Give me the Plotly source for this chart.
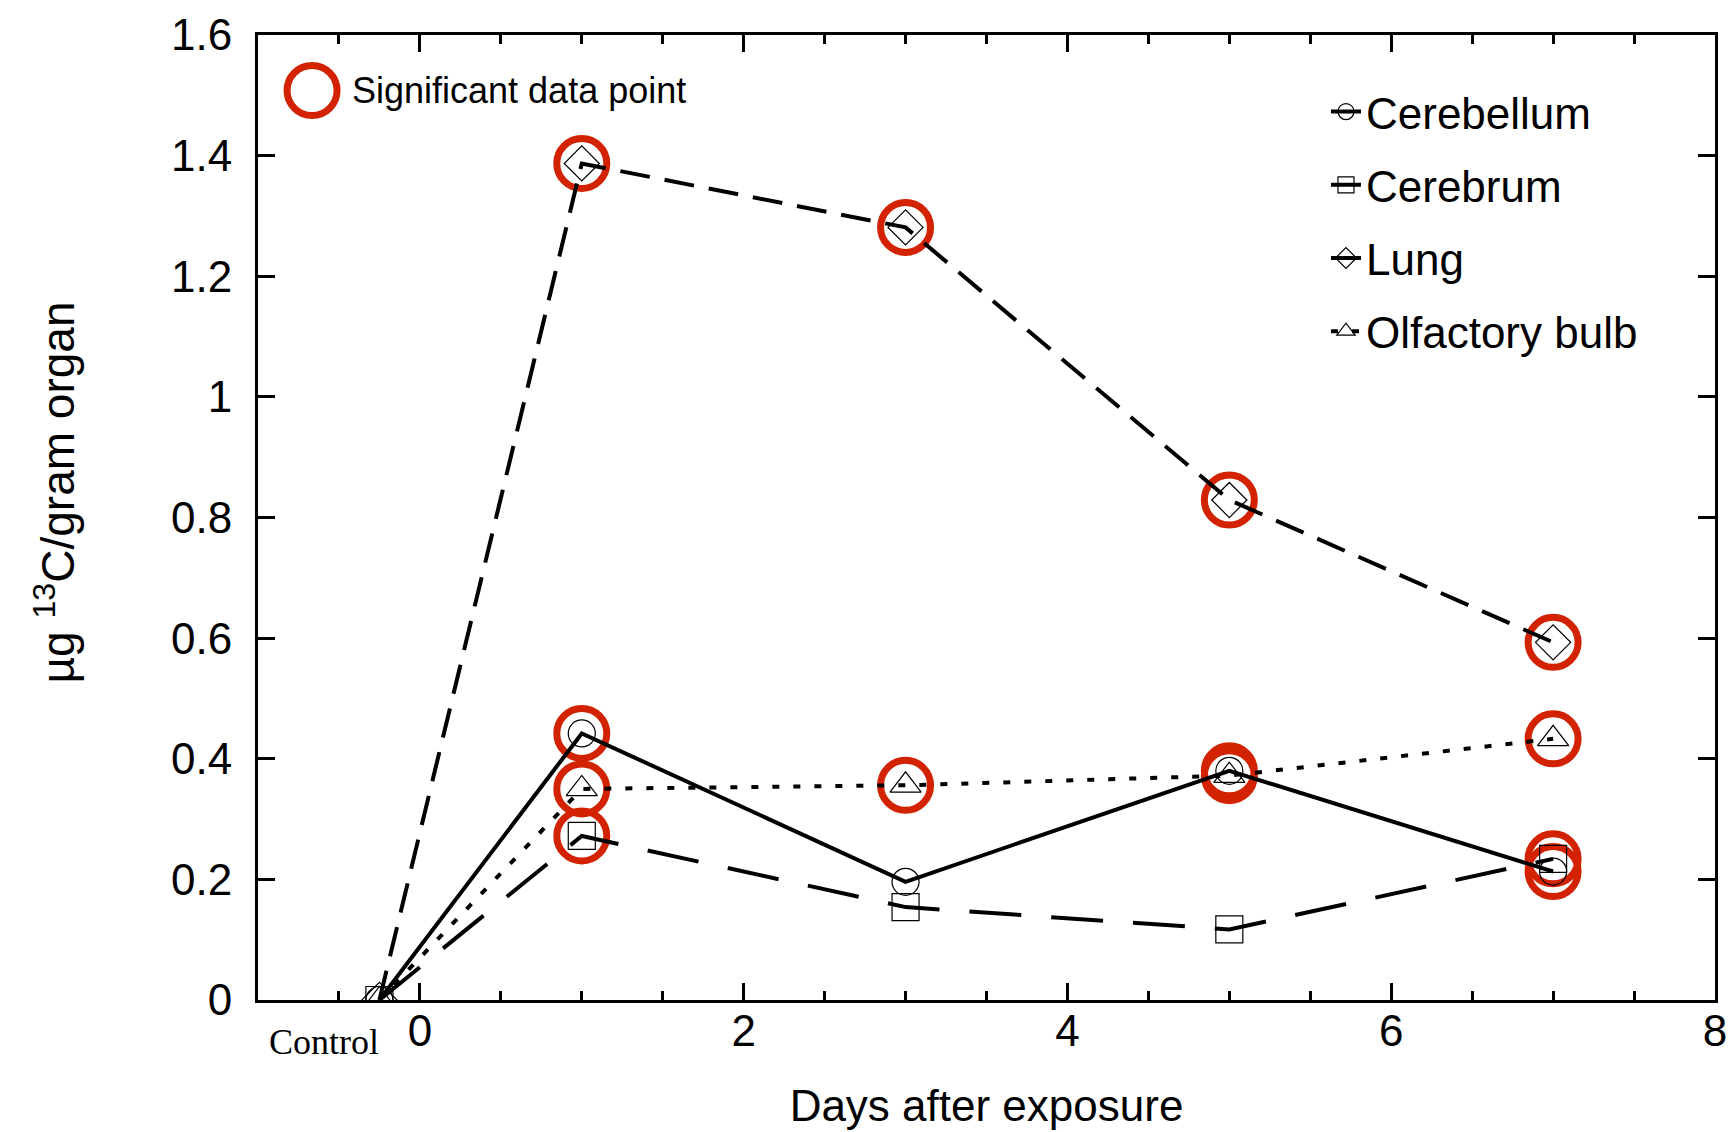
import plotly.graph_objects as go

# ---- data ----
days = [-0.25, 1, 3, 5, 7]          # -0.25 = control
cerebellum = [0, 0.442, 0.196, 0.380, 0.213]
cerebrum = [0, 0.272, 0.154, 0.117, 0.234]
lung = [0, 1.387, 1.281, 0.829, 0.593]
olfactory = [0, 0.350, 0.356, 0.372, 0.433]

cerebellum_sig = [False, True, False, True, True]
cerebrum_sig = [False, True, False, False, True]
lung_sig = [False, True, True, True, True]
olfactory_sig = [False, True, True, True, True]

series_names = ["Cerebellum", "Cerebrum", "Lung", "Olfactory bulb"]
x_tick_vals = [0, 2, 4, 6, 8]
y_tick_vals = [0, 0.2, 0.4, 0.6, 0.8, 1, 1.2, 1.4, 1.6]
y_tick_text = ["0", "0.2", "0.4", "0.6", "0.8", "1", "1.2", "1.4", "1.6"]

# ---- styling ----
RED = "#D22200"
FONT = "Liberation Sans, Arial, sans-serif"
series_vals = [cerebellum, cerebrum, lung, olfactory]
series_sig = [cerebellum_sig, cerebrum_sig, lung_sig, olfactory_sig]
symbols = ["circle-open", "square-open", "diamond-open", "triangle-up-open"]
dashes = ["solid", "52px,30px", "30px,15px", "7px,14px"]

fig = go.Figure()

# significance rings (under the lines)
for vals, sig in zip(series_vals, series_sig):
    sx = [d for d, s in zip(days, sig) if s]
    sy = [v for v, s in zip(vals, sig) if s]
    fig.add_trace(go.Scatter(
        x=sx, y=sy, mode="markers", showlegend=False, hoverinfo="skip",
        marker=dict(symbol="circle-open", size=50, color=RED,
                    line=dict(width=7, color=RED)),
    ))

for i, (name, vals) in enumerate(zip(series_names, series_vals)):
    fig.add_trace(go.Scatter(
        x=days, y=vals, name=name, mode="lines+markers",
        legendgroup=name,
        line=dict(color="black", width=4, dash=dashes[i]),
        marker=dict(symbol=symbols[i], size=27, color="black",
                    line=dict(width=1.2, color="black")),
    ))

fig.update_layout(
    width=1735, height=1132,
    margin=dict(l=258, r=20, t=35, b=132),
    paper_bgcolor="white", plot_bgcolor="white",
    font=dict(family=FONT, size=44, color="black"),
    showlegend=True,
    legend=dict(x=0.733, y=0.957, xanchor="left", yanchor="top",
                bgcolor="rgba(0,0,0,0)", tracegroupgap=13,
                font=dict(size=44, family=FONT)),
    shapes=[dict(type="circle", xref="paper", yref="paper",
                 xsizemode="pixel", ysizemode="pixel",
                 xanchor=0.0371, yanchor=0.9425,
                 x0=-25, x1=25, y0=-25, y1=25,
                 line=dict(color=RED, width=7))],
    annotations=[
        dict(text="Significant data point", xref="paper", yref="paper",
             x=0.0631, y=0.9425, xanchor="left", yanchor="middle",
             showarrow=False, font=dict(size=36, family=FONT)),
        dict(text="Control", xref="x", yref="paper", x=-0.59, y=-0.0435,
             xanchor="center", yanchor="middle", showarrow=False,
             font=dict(size=36, family="Liberation Serif, Times New Roman, serif")),
        dict(text="µg <sup>13</sup>C/gram organ", xref="paper", yref="paper",
             x=-0.1393, y=0.526, xanchor="center", yanchor="middle",
             textangle=-90, showarrow=False, font=dict(size=46, family=FONT)),
    ],
)

fig.update_xaxes(
    range=[-1, 8], tickvals=x_tick_vals, ticks="inside", ticklen=17,
    tickwidth=3, tickcolor="black", showline=True, linewidth=3,
    linecolor="black", mirror="ticks", showgrid=False, zeroline=False,
    tickfont=dict(size=44), ticklabelstandoff=-10, automargin=False,
    minor=dict(dtick=0.5, tick0=0, ticks="inside", ticklen=9, tickwidth=3,
               tickcolor="black", showgrid=False),
    title=dict(text="Days after exposure", font=dict(size=44), standoff=37),
)
fig.update_yaxes(
    range=[0, 1.6], tickvals=y_tick_vals, ticktext=y_tick_text,
    ticks="inside", ticklen=17, tickwidth=3, tickcolor="black",
    showline=True, linewidth=3, linecolor="black", mirror="ticks",
    showgrid=False, zeroline=False, tickfont=dict(size=44),
    ticklabelstandoff=14, automargin=False,
)

fig.write_html("out.html")
